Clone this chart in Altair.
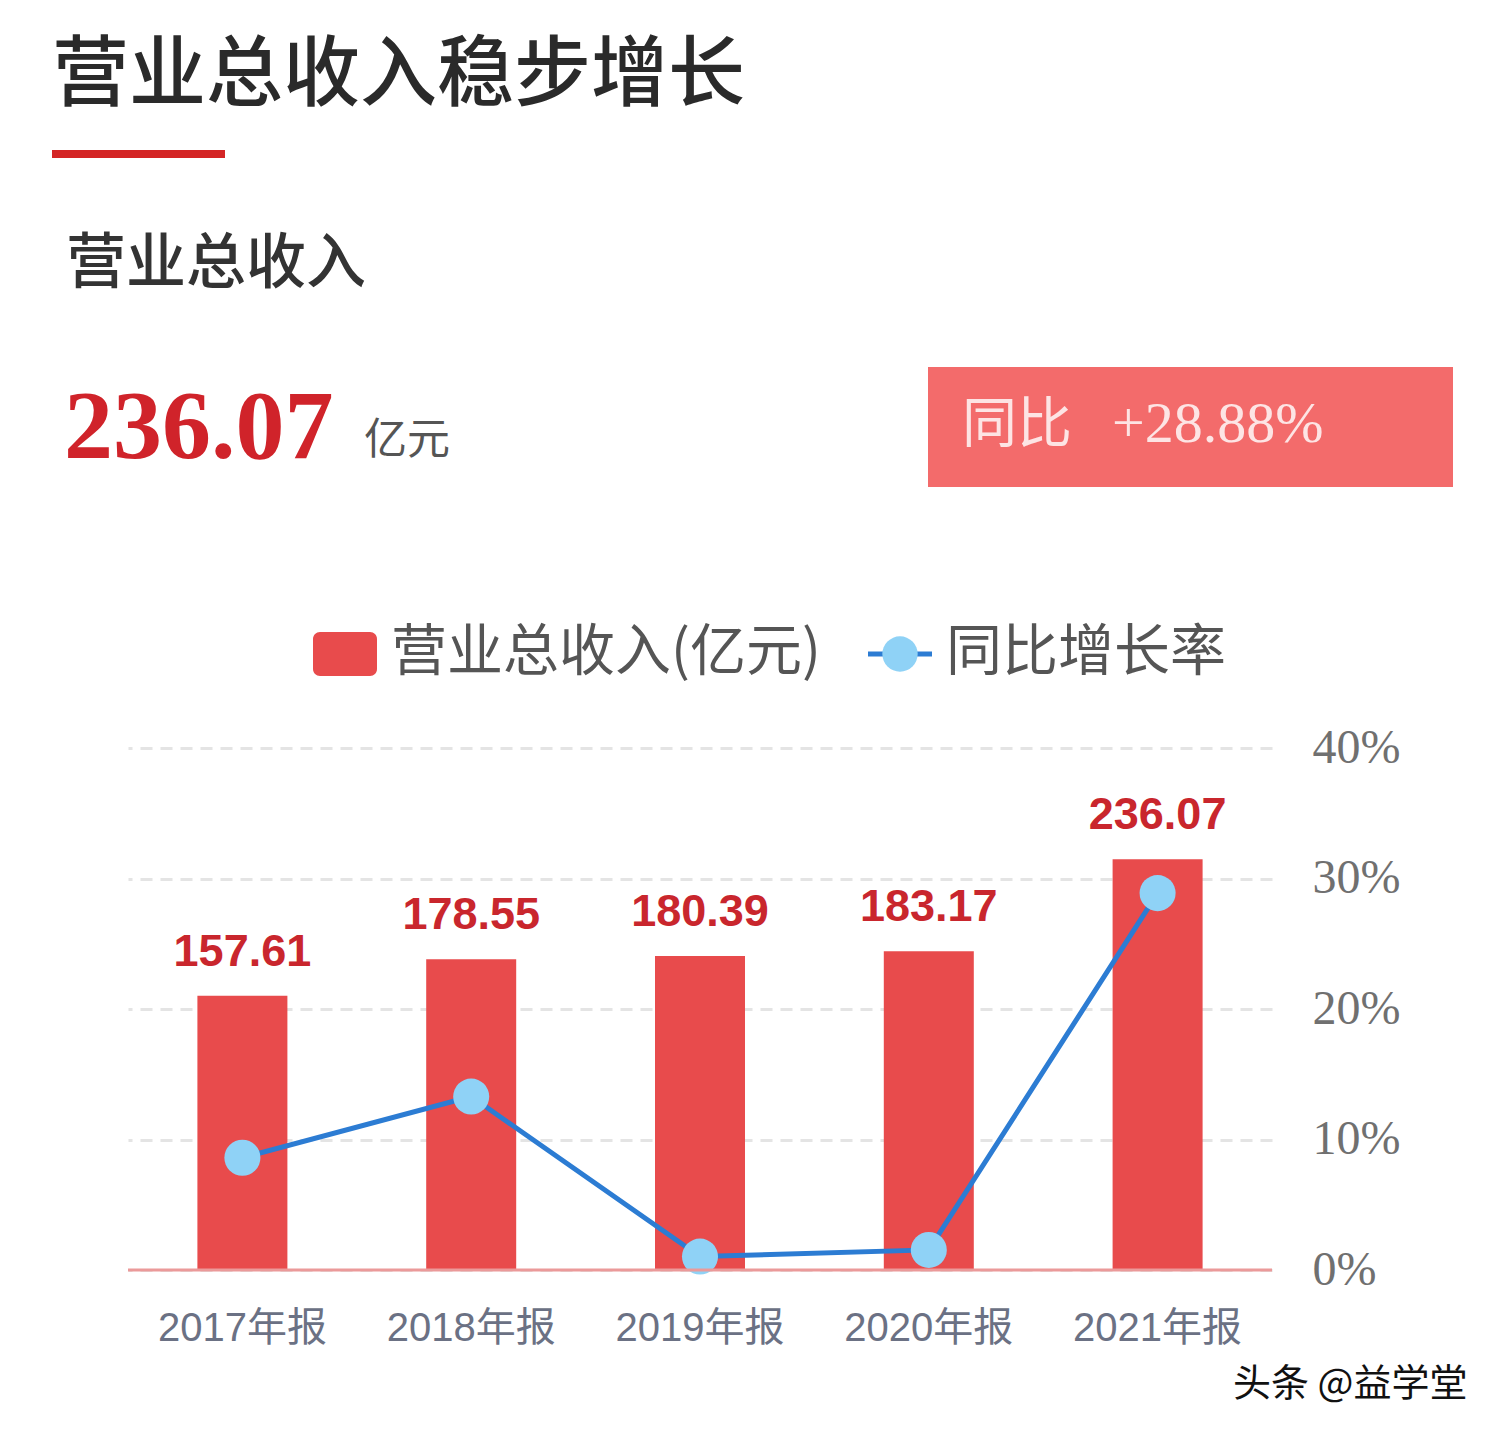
import altair as alt
import pandas as pd

# ---- data ----
years = ["2017年报", "2018年报", "2019年报", "2020年报", "2021年报"]
revenue = [157.61, 178.55, 180.39, 183.17, 236.07]
growth = [8.6, 13.29, 1.03, 1.54, 28.88]
growth_ticks = [0, 10, 20, 30, 40]

title_text = "营业总收入稳步增长"
sub_text = "营业总收入"
big_value = "236.07"
unit_text = "亿元"
yoy_label = "同比"
yoy_value = "+28.88%"
legend_bar = "营业总收入(亿元)"
legend_line = "同比增长率"
watermark = "头条 @益学堂"

df = pd.DataFrame({"year": years, "revenue": revenue, "growth": growth})
one = pd.DataFrame({"k": [0]})

SANS = "Arial, 'Liberation Sans', 'Noto Sans CJK SC', sans-serif"
CJK = "'Noto Sans CJK SC', sans-serif"
SERIF = "'Times New Roman', 'Liberation Serif', serif"

W, H = 1144, 522

xenc = alt.X("year:N", sort=years,
             scale=alt.Scale(paddingInner=0, paddingOuter=0),
             axis=alt.Axis(title=None, labelFont=SANS, labelFontSize=40,
                           labelColor="#6b7184", labelPadding=38,
                           domain=False, ticks=False, labelAngle=0))

rev_scale = alt.Scale(domain=[0, 300])
gr_scale = alt.Scale(domain=[0, 40])

bars = alt.Chart(df).mark_bar(size=90, color="#e84b4c").encode(
    x=xenc,
    y=alt.Y("revenue:Q", scale=rev_scale, axis=None),
)
bar_labels = alt.Chart(df).mark_text(
    font=SANS, fontSize=45, fontWeight="bold", color="#c9262d",
    baseline="alphabetic", dy=-30
).encode(
    x=alt.X("year:N", sort=years),
    y=alt.Y("revenue:Q", scale=rev_scale, axis=None),
    text=alt.Text("revenue:Q", format=".2f"),
)

grid_axis = alt.Axis(
    title=None, orient="right", values=growth_ticks,
    labelExpr="datum.value + '%'", labelFont=SERIF, labelFontSize=48,
    labelColor="#707070", labelPadding=40, domain=False, ticks=False,
    grid=True, gridColor="#e4e4e4", gridWidth=3, gridDash=[12, 8],
)
line = alt.Chart(df).mark_line(color="#2c7cd3", strokeWidth=5).encode(
    x=alt.X("year:N", sort=years),
    y=alt.Y("growth:Q", scale=gr_scale, axis=grid_axis),
)
points = alt.Chart(df).mark_point(
    shape="circle", filled=True, size=1300, color="#8fd2f6", opacity=1
).encode(
    x=alt.X("year:N", sort=years),
    y=alt.Y("growth:Q", scale=gr_scale, axis=None),
)

baseline = alt.Chart(one).mark_rule(color="#eb9a9a", strokeWidth=3).encode(
    x=alt.value(0), x2=alt.value(W), y=alt.value(H)
)


def label(text, x, y, size, color, font=CJK, weight="normal", align="left", baseline_="middle"):
    return alt.Chart(one).mark_text(
        text=text, font=font, fontSize=size, color=color, fontWeight=weight,
        align=align, baseline=baseline_
    ).encode(x=alt.value(x), y=alt.value(y))


title = label(title_text, -76, -671, 77, "#2a2a2a", weight=500)
underline = alt.Chart(one).mark_rule(color="#d42525", strokeWidth=8).encode(
    x=alt.value(-76), x2=alt.value(97), y=alt.value(-594)
)
sub = label(sub_text, -62, -483, 60, "#333333", weight=500)
big = label(big_value, -64, -290, 98, "#d0232a", font=SERIF, weight="bold", baseline_="alphabetic")
unit = label(unit_text, 236, -307, 43, "#555555")
box = alt.Chart(one).mark_rect(color="#f36b6b").encode(
    x=alt.value(800), x2=alt.value(1325), y=alt.value(-381), y2=alt.value(-261)
)
box_t1 = label(yoy_label, 834, -323, 55, "#fde4e4")
box_t2 = label(yoy_value, 984, -323, 58, "#fde4e4", font=SERIF)

leg_rect = alt.Chart(one).mark_rect(color="#e84b4c", cornerRadius=7).encode(
    x=alt.value(185), x2=alt.value(249), y=alt.value(-116), y2=alt.value(-72)
)
leg_t1 = label(legend_bar, 263, -95, 56, "#555555")
leg_line = alt.Chart(one).mark_rule(color="#2c7cd3", strokeWidth=5).encode(
    x=alt.value(740), x2=alt.value(804), y=alt.value(-94)
)
leg_pt = alt.Chart(one).mark_point(shape="circle", filled=True, size=1250,
                                   color="#8fd2f6", opacity=1).encode(
    x=alt.value(772), y=alt.value(-94)
)
leg_t2 = label(legend_line, 818, -95, 56, "#555555")
wm = label(watermark, 1105, 637, 38, "#111111")

chart = alt.layer(
    bars, bar_labels, line, points, baseline,
    title, underline, sub, big, unit, box, box_t1, box_t2,
    leg_rect, leg_t1, leg_line, leg_pt, leg_t2, wm,
).resolve_scale(y="independent").properties(
    width=W, height=H,
    autosize=alt.AutoSizeParams(type="none"),
    padding={"left": 120, "top": 740, "right": 225, "bottom": 150},
    background="white",
).configure_view(stroke=None)

chart.save("out.html", embed_options={"renderer": "svg", "actions": False})
